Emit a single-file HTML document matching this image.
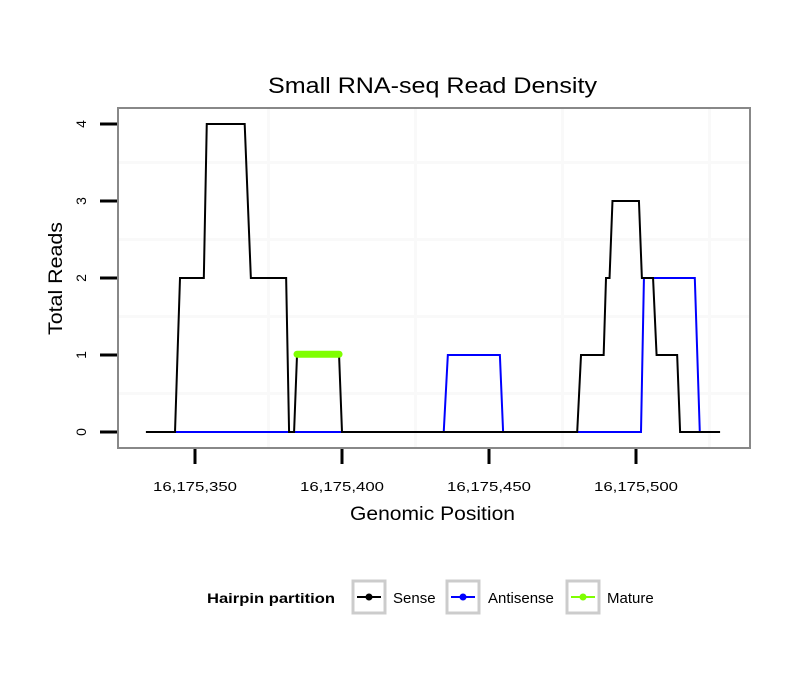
<!DOCTYPE html>
<html><head><meta charset="utf-8"><style>
body{margin:0;background:#fff;}
svg text{font-family:"Liberation Sans",sans-serif;}
</style></head><body>
<svg id="chart" width="810" height="690" xmlns="http://www.w3.org/2000/svg">
<rect width="810" height="690" fill="#fff"/>
<text x="268" y="93" font-size="22" textLength="329" lengthAdjust="spacingAndGlyphs" fill="#000">Small RNA-seq Read Density</text>
<g id="grid"></g>
<g id="series"></g>
<rect x="118" y="108" width="632" height="340" fill="none" stroke="#888" stroke-width="2"/>
<g id="axes"></g>
<text x="350" y="520" font-size="19" textLength="165" lengthAdjust="spacingAndGlyphs">Genomic Position</text>
<text transform="translate(62,335) rotate(-90)" font-size="19" textLength="113" lengthAdjust="spacingAndGlyphs">Total Reads</text>
<g>
<text x="207" y="603" font-size="14" font-weight="bold" textLength="128" lengthAdjust="spacingAndGlyphs">Hairpin partition</text>
<g>
<rect x="353" y="581" width="32" height="32" fill="none" stroke="#ccc" stroke-width="3"/>
<line x1="357" y1="597" x2="381" y2="597" stroke="#000" stroke-width="2"/><circle cx="369" cy="597" r="3.5" fill="#000"/>
<text x="393" y="603" font-size="15">Sense</text></g>
<g>
<rect x="447" y="581" width="32" height="32" fill="none" stroke="#ccc" stroke-width="3"/>
<line x1="451" y1="597" x2="475" y2="597" stroke="#00f" stroke-width="2"/><circle cx="463" cy="597" r="3.5" fill="#00f"/>
<text x="488" y="603" font-size="15">Antisense</text></g>
<g>
<rect x="567" y="581" width="32" height="32" fill="none" stroke="#ccc" stroke-width="3"/>
<line x1="571" y1="597" x2="595" y2="597" stroke="#7fff00" stroke-width="2"/><circle cx="583" cy="597" r="3.5" fill="#7fff00"/>
<text x="607" y="603" font-size="15">Mature</text></g>
</g>
</svg>
<script>
const base = 16175000;
const senseX = [333.3,343.2,344.9,353,354,366.9,369,381,382,383.7,384.7,399,400,480,481.3,489,489.8,491,492,501,502,505.8,507,514,515,528.6];
const senseY = [0,0,2,2,4,4,2,2,0,0,1,1,0,0,1,1,2,2,3,3,2,2,1,1,0,0];
const antiX = [343.2,434.6,436,453.7,454.8,501.7,502.7,520,521.7];
const antiY = [0,0,1,1,0,0,2,2,0];
const matureX = [384.7,399];
const matureY = [1,1];
const xTicks = [350,400,450,500];
const xTickLabels = ["16,175,350","16,175,400","16,175,450","16,175,500"];
const yTicks = [0,1,2,3,4];
const xMinor = [375,425,475,525];
const yMinor = [0.5,1.5,2.5,3.5];

const xs = v => 195 + (v - 350) * 2.94;
const ys = v => 432 - v * 77;
const NS = "http://www.w3.org/2000/svg";
function mk(tag, attrs, parent){const e=document.createElementNS(NS,tag);for(const k in attrs)e.setAttribute(k,attrs[k]);parent.appendChild(e);return e;}
const grid=document.getElementById('grid'), series=document.getElementById('series'), axes=document.getElementById('axes');
xMinor.forEach(v=>{const l=mk('line',{x1:xs(v),x2:xs(v),y1:109,y2:447,stroke:'#f9f9f9','stroke-width':3},grid);

});
yMinor.forEach(v=>{const l=mk('line',{x1:119,x2:749,y1:ys(v),y2:ys(v),stroke:'#f9f9f9','stroke-width':3},grid);

});
function pts(X,Y){return X.map((x,i)=>xs(x)+','+ys(Y[i])).join(' ');}
const a=mk('polyline',{points:pts(antiX,antiY),fill:'none',stroke:'#00f','stroke-width':2},series);


const s=mk('polyline',{points:pts(senseX,senseY),fill:'none',stroke:'#000','stroke-width':2},series);


const m=mk('polyline',{points:pts(matureX,matureY.map(v=>v+0.01)),fill:'none',stroke:'#7fff00','stroke-width':7,'stroke-linecap':'round'},series);


xTicks.forEach((v,i)=>{const t=mk('line',{x1:xs(v),x2:xs(v),y1:449,y2:464,stroke:'#000','stroke-width':3},axes);


const tx=mk('text',{x:xs(v)-42,y:491,'font-size':13,textLength:84,lengthAdjust:'spacingAndGlyphs'},axes);tx.textContent=xTickLabels[i];

});
yTicks.forEach(v=>{const t=mk('line',{x1:100,x2:117,y1:ys(v),y2:ys(v),stroke:'#000','stroke-width':3},axes);


const tx=mk('text',{transform:`translate(86,${ys(v)}) rotate(-90)`,'font-size':14,'text-anchor':'middle'},axes);tx.textContent=v;

});
</script>
</body></html>
